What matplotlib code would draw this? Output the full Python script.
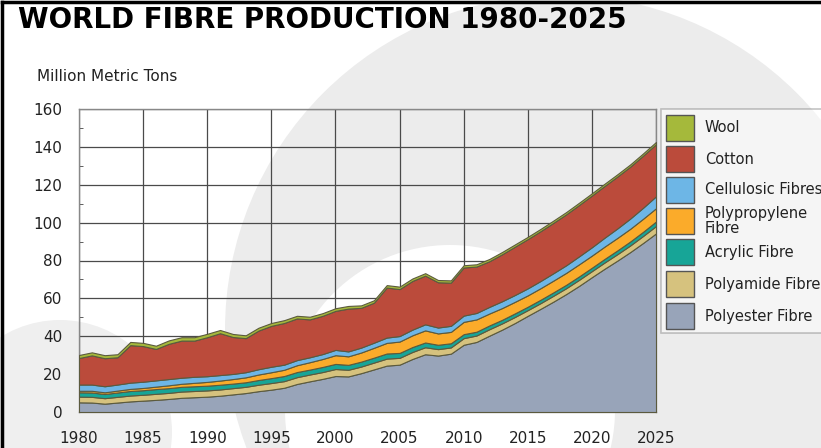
import matplotlib
matplotlib.use("Agg")
import matplotlib.pyplot as plt
from matplotlib.patches import Ellipse, Rectangle
from matplotlib.lines import Line2D
from matplotlib.ticker import MultipleLocator

years = list(range(1980, 2026))

# million metric tons per fibre, 1980-2025 (2013 onwards is forecast)
polyester = [5.1, 5.0, 4.4, 5.0, 5.6, 6.0, 6.4, 6.9, 7.5, 7.8,
             8.1, 8.6, 9.3, 10.0, 11.0, 11.8, 12.8, 14.8, 16.2, 17.5,
             19.0, 18.8, 20.5, 22.5, 24.5, 25.0, 28.0, 30.5, 29.8, 30.8,
             35.5, 37.0, 40.3, 43.5, 47.0, 50.8, 54.5, 58.3, 62.3, 66.6,
             71.2, 75.7, 80.0, 84.5, 89.3, 94.3]
polyamide = [3.0, 3.0, 2.9, 3.0, 3.1, 3.1, 3.2, 3.2, 3.3, 3.3,
             3.3, 3.3, 3.3, 3.3, 3.4, 3.5, 3.5, 3.6, 3.6, 3.6,
             3.7, 3.5, 3.5, 3.6, 3.7, 3.6, 3.7, 3.7, 3.4, 3.3,
             3.5, 3.4, 3.4, 3.3, 3.2, 3.0, 3.0, 3.1, 3.1, 3.2,
             3.2, 3.3, 3.4, 3.5, 3.7, 3.9]
acrylic = [2.3, 2.3, 2.2, 2.3, 2.4, 2.4, 2.5, 2.5, 2.5, 2.5,
           2.5, 2.5, 2.4, 2.4, 2.5, 2.6, 2.7, 2.7, 2.6, 2.7,
           2.7, 2.6, 2.6, 2.6, 2.7, 2.6, 2.6, 2.5, 2.3, 2.2,
           2.1, 2.0, 2.0, 1.9, 1.9, 1.8, 1.8, 1.8, 1.8, 1.8,
           1.8, 1.9, 2.0, 2.1, 2.2, 2.4]
polypropylene = [0.8, 0.9, 0.9, 1.0, 1.1, 1.2, 1.3, 1.5, 1.6, 1.8,
                 2.0, 2.2, 2.4, 2.6, 2.9, 3.1, 3.3, 3.6, 3.9, 4.2,
                 4.6, 4.5, 4.8, 5.2, 5.6, 6.0, 6.2, 6.4, 6.0, 6.0,
                 6.5, 6.5, 6.3, 6.2, 6.1, 6.0, 6.1, 6.2, 6.3, 6.4,
                 6.4, 6.5, 6.6, 6.7, 6.9, 7.0]
cellulosic = [3.3, 3.3, 3.2, 3.2, 3.3, 3.3, 3.3, 3.3, 3.2, 3.2,
              3.0, 2.9, 2.7, 2.7, 2.8, 2.9, 2.7, 2.7, 2.6, 2.6,
              2.8, 2.6, 2.6, 2.7, 2.8, 2.9, 3.0, 3.2, 3.1, 3.2,
              3.3, 3.4, 3.5, 3.6, 3.6, 3.7, 3.8, 3.9, 4.0, 4.2,
              4.4, 4.7, 5.0, 5.4, 5.8, 6.3]
cotton = [14.0, 15.4, 14.8, 14.4, 19.8, 18.8, 16.6, 18.6, 19.6, 19.1,
          20.6, 22.1, 19.5, 18.0, 20.4, 21.6, 22.0, 22.0, 20.0, 20.2,
          20.6, 22.6, 21.0, 21.1, 26.4, 24.8, 25.7, 25.7, 23.9, 22.8,
          25.4, 24.5, 24.1, 24.8, 25.5, 26.0, 26.3, 26.6, 26.9, 27.1,
          27.3, 27.3, 27.4, 27.4, 27.5, 27.5]
wool = [1.6, 1.6, 1.6, 1.6, 1.7, 1.7, 1.7, 1.8, 1.8, 1.8,
        1.8, 1.7, 1.6, 1.5, 1.5, 1.5, 1.5, 1.4, 1.4, 1.4,
        1.4, 1.4, 1.3, 1.3, 1.3, 1.3, 1.3, 1.3, 1.2, 1.2,
        1.2, 1.2, 1.2, 1.2, 1.2, 1.2, 1.2, 1.2, 1.2, 1.2,
        1.2, 1.2, 1.2, 1.2, 1.2, 1.2]

series = [polyester, polyamide, acrylic, polypropylene, cellulosic, cotton, wool]
names = ["Polyester Fibre", "Polyamide Fibre", "Acrylic Fibre",
         "Polypropylene\nFibre", "Cellulosic Fibres", "Cotton", "Wool"]
colors = ["#98a4b9", "#d6c27e", "#17a597", "#fbab2a", "#6db6e6", "#bb4b3b", "#a5b93b"]

W, H = 821, 448
fig = plt.figure(figsize=(W / 100, H / 100), dpi=100)
fig.patch.set_facecolor("white")


def fx(x):
    return x / W


def fy(y):
    return 1 - y / H


# faint circular watermark behind the chart
for (cx, cy, r, c) in [(560, 330, 335, "#ececec"), (450, 410, 165, "white"),
                       (60, 432, 112, "#efefef")]:
    fig.patches.append(Ellipse((fx(cx), fy(cy)), 2 * r / W, 2 * r / H,
                               transform=fig.transFigure, facecolor=c,
                               edgecolor="none", zorder=-5))

# frame lines on the left and top edges
fig.add_artist(Line2D([fx(2), fx(2)], [0, fy(2)], color="black", lw=2.5,
                      transform=fig.transFigure, zorder=10))
fig.add_artist(Line2D([fx(2), 1], [fy(2), fy(2)], color="black", lw=2.5,
                      transform=fig.transFigure, zorder=10))

ax = fig.add_axes([fx(79), fy(412), fx(656) - fx(79), fy(109) - fy(412)])
ax.set_facecolor("none")
ax.set_zorder(2)

ax.stackplot(years, series, colors=colors, edgecolor="#5b5a3e", linewidth=0.8,
             zorder=3)

ax.set_xlim(1980, 2025)
ax.set_ylim(0, 160)
ax.xaxis.set_major_locator(MultipleLocator(5))
ax.yaxis.set_major_locator(MultipleLocator(20))
ax.xaxis.set_minor_locator(MultipleLocator(2.5))
ax.yaxis.set_minor_locator(MultipleLocator(10))
ax.grid(True, which="major", color="#4a4a4a", linewidth=0.9, zorder=1)
ax.set_axisbelow(True)
ax.tick_params(which="major", length=0, labelsize=11, colors="#222222")
ax.tick_params(axis="x", which="major", pad=14)
ax.tick_params(axis="y", which="major", pad=12)
ax.tick_params(which="minor", direction="in", length=3, color="#444444")
for s in ax.spines.values():
    s.set_color("#888888")
    s.set_linewidth(1.0)

fig.text(fx(18), fy(20), "WORLD FIBRE PRODUCTION 1980-2025", fontsize=20,
         fontweight="bold", va="center", ha="left", color="black", zorder=5)
fig.text(fx(37), fy(76), "Million Metric Tons", fontsize=11, va="center",
         ha="left", color="#222222", zorder=5)

# legend box at the right edge
fig.patches.append(Rectangle((fx(661), fy(333)), 1 - fx(661) + 0.01, fy(109) - fy(333),
                             transform=fig.transFigure, facecolor="white", alpha=0.5,
                             edgecolor="#8a8a8a", linewidth=1.2, zorder=3))
rows = [128, 159, 190, 221, 252, 284, 316]
for name, c, yc in zip(names[::-1], colors[::-1], rows):
    fig.patches.append(Rectangle((fx(666), fy(yc + 13)), fx(28), 26 / H,
                                 transform=fig.transFigure, facecolor=c,
                                 edgecolor="#555555", linewidth=1.0, zorder=4))
    fig.text(fx(705), fy(yc), name, fontsize=10.5, va="center", ha="left",
             color="#222222", linespacing=0.95, zorder=5)

fig.savefig("out.png", dpi=100)
